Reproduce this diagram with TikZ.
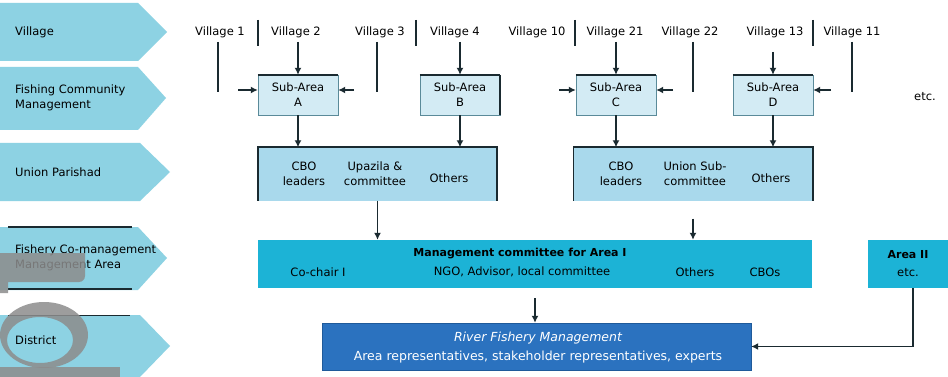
\documentclass[tikz,border=0pt]{standalone}
\usepackage{fontspec}
\setmainfont{DejaVu Sans}
\usetikzlibrary{arrows.meta}
\definecolor{rowblue}{HTML}{8DD2E3}
\definecolor{subfill}{HTML}{D3EBF4}
\definecolor{subdraw}{HTML}{5A8A99}
\definecolor{grpfill}{HTML}{A9D9EC}
\definecolor{mgfill}{HTML}{1CB3D6}
\definecolor{rfmfill}{HTML}{2B72BF}
\definecolor{rfmdraw}{HTML}{1F5A9A}
\definecolor{dark}{HTML}{1A2A30}
\tikzset{
  txt/.style={font=\fontsize{11.5}{15}\selectfont, text=black, inner sep=0pt},
  rowlab/.style={txt, anchor=west, align=left},
  vil/.style={txt},
  subbox/.style={draw=subdraw, fill=subfill, minimum width=80pt, minimum height=40pt, txt, align=center},
  grp/.style={fill=grpfill, minimum width=239pt, minimum height=53pt, inner sep=0pt},
  mg/.style={fill=mgfill, minimum height=48pt, inner sep=0pt},
  rfm/.style={fill=rfmfill, draw=rfmdraw, minimum width=429pt, minimum height=47pt, inner sep=0pt},
  edge/.style={draw=dark, line width=1.6pt},
  vline/.style={draw=dark, line width=1.5pt},
  arr/.style={draw=dark, line width=1.5pt, -{Latex[length=7pt,width=7pt]}},
  ghost/.style={fill=black!45, opacity=0.85}
}
\begin{document}
\begin{tikzpicture}[x=1pt,y=-1pt]
\useasboundingbox (0,0) rectangle (948,377);
\fill[white] (0,0) rectangle (948,377);

% left row arrows
\fill[rowblue] (0,3) -- (138,3) -- (167,32) -- (138,61) -- (0,61) -- cycle;
\fill[rowblue] (0,67) -- (138,67) -- (166,98) -- (138,130) -- (0,130) -- cycle;
\fill[rowblue] (0,143) -- (140,143) -- (170,172) -- (140,201) -- (0,201) -- cycle;
\fill[rowblue] (0,227) -- (138,227) -- (167,258) -- (138,290) -- (0,290) -- cycle;
\fill[rowblue] (0,315) -- (140,315) -- (170,346) -- (140,377) -- (0,377) -- cycle;
\draw[dark, line width=1.2pt] (8,227) -- (132,227);
\draw[dark, line width=1.2pt] (8,289) -- (132,289);
\draw[dark, line width=0.7pt] (8,315) -- (130,315);

\node[rowlab] (r1) at (15,32) {Village};
\node[rowlab] (r2) at (15,98) {Fishing Community\\Management};
\node[rowlab] (r3) at (15,172) {Union Parishad};
\node[rowlab] (r4) at (15,258) {Fishery Co-management\\Management Area};
\node[rowlab] (r5) at (15,340) {District};

% villages
\foreach \n/\x/\t in {v1/220/Village 1, v2/296/Village 2, v3/380/Village 3, v4/455/Village 4,
  v10/537/Village 10, v21/615/Village 21, v22/690/Village 22, v13/775/Village 13, v11/852/Village 11}
  \node[vil] (\n) at (\x,32) {\t};
\foreach \x in {258,416,575,813}
  \draw[dark, line width=1.6pt] (\x,20) -- (\x,46);

% plain vertical lines under villages
\draw[vline, shorten <=4pt] (v1.south -| 218,0) -- (218,92);
\draw[vline, shorten <=4pt] (v3.south -| 377,0) -- (377,92);
\draw[vline, shorten <=4pt] (v22.south -| 693,0) -- (693,92);
\draw[vline, shorten <=4pt] (v11.south) -- (v11.south |- 0,92);

% sub area boxes
\node[subbox] (A) at (298,95) {Sub-Area\\A};
\node[subbox] (B) at (460,95) {Sub-Area\\B};
\node[subbox] (C) at (616,95) {Sub-Area\\C};
\node[subbox] (D) at (773,95) {Sub-Area\\D};
\foreach \b in {A,B,C,D}
  \draw[edge] (\b.north west) -- (\b.north east);
\draw[edge] (B.north east) -- (B.south east);

\draw[arr, shorten <=4pt] (v2.south -| A.north) -- (A.north);
\draw[arr, shorten <=4pt] (v4.south -| B.north) -- (B.north);
\draw[arr, shorten <=4pt] (v21.south -| C.north) -- (C.north);
\draw[arr, shorten <=14pt] (v13.south -| D.north) -- (D.north);

% side stubs
\coordinate (sa1) at (238,90);
\coordinate (sa2) at (354,90);
\coordinate (sc1) at (559,90);
\coordinate (sc2) at (673,90);
\coordinate (sd2) at (831,90);
\draw[arr] (sa1) -- (sa1 -| A.west);
\draw[arr] (sa2) -- (sa2 -| A.east);
\draw[arr] (sc1) -- (sc1 -| C.west);
\draw[arr] (sc2) -- (sc2 -| C.east);
\draw[arr] (sd2) -- (sd2 -| D.east);
\node[txt] (etc1) at (925,97) {etc.};

% group boxes
\node[grp] (G1) at (377.5,174) {};
\node[grp] (G2) at (693,174) {};
\foreach \g in {G1,G2}
  \draw[edge] (\g.south west) -- (\g.north west) -- (\g.north east) -- (\g.south east);
\node[txt, align=center] (g1a) at (304,174) {CBO\\leaders};
\node[txt, align=center] (g1b) at (375,174) {Upazila \&\\committee};
\node[txt] (g1c) at (449,178) {Others};
\node[txt, align=center] (g2a) at (621,174) {CBO\\leaders};
\node[txt, align=center] (g2b) at (695,174) {Union Sub-\\committee};
\node[txt] (g2c) at (771,178) {Others};

\draw[arr] (A.south) -- (A.south |- G1.north);
\draw[arr] (B.south) -- (B.south |- G1.north);
\draw[arr] (C.south) -- (C.south |- G2.north);
\draw[arr] (D.south) -- (D.south |- G2.north);

% management committee
\node[mg, minimum width=554pt] (M) at (535,264) {};
\node[mg, minimum width=80pt] (A2) at (908,264) {};
\node[txt, font=\fontsize{11}{14}\selectfont\bfseries] (m1) at (520,254) {Management committee for Area I};
\node[txt] (m2) at (318,272) {Co-chair I};
\node[txt] (m3) at (522,272) {NGO, Advisor, local committee};
\node[txt] (m4) at (695,272) {Others};
\node[txt] (m5) at (765,272) {CBOs};
\node[txt, font=\fontsize{11}{14}\selectfont\bfseries] (a2t) at (908,255) {Area II};
\node[txt] (a2e) at (908,273) {etc.};

\draw[arr] (G1.south) -- (G1.south |- M.north);
\draw[arr, shorten <=18pt] (G2.south) -- (G2.south |- M.north);

% river fishery management
\node[rfm] (R) at (536.5,346.5) {};
\node[txt, text=white, font=\fontsize{12.5}{15}\selectfont\itshape] (rt1) at (538,338) {River Fishery Management};
\node[txt, text=white, font=\fontsize{12.5}{15}\selectfont] (rt2) at (538,357) {Area representatives, stakeholder representatives, experts};

\draw[arr, shorten <=10pt] (M.south) -- (M.south |- R.north);
\draw[arr] ([xshift=5pt]A2.south) |- (R.east);

% grey overlay marks
\fill[ghost] (0,253) -- (85,253) -- (85,276) to[out=-90,in=0] (79,282) -- (8,282) -- (8,293) -- (0,293) -- cycle;
\fill[ghost, even odd rule] (44,335) ellipse [x radius=44, y radius=33] (40,340) ellipse [x radius=33, y radius=23];
\fill[ghost] (0,367) rectangle (120,377);
\end{tikzpicture}
\end{document}
